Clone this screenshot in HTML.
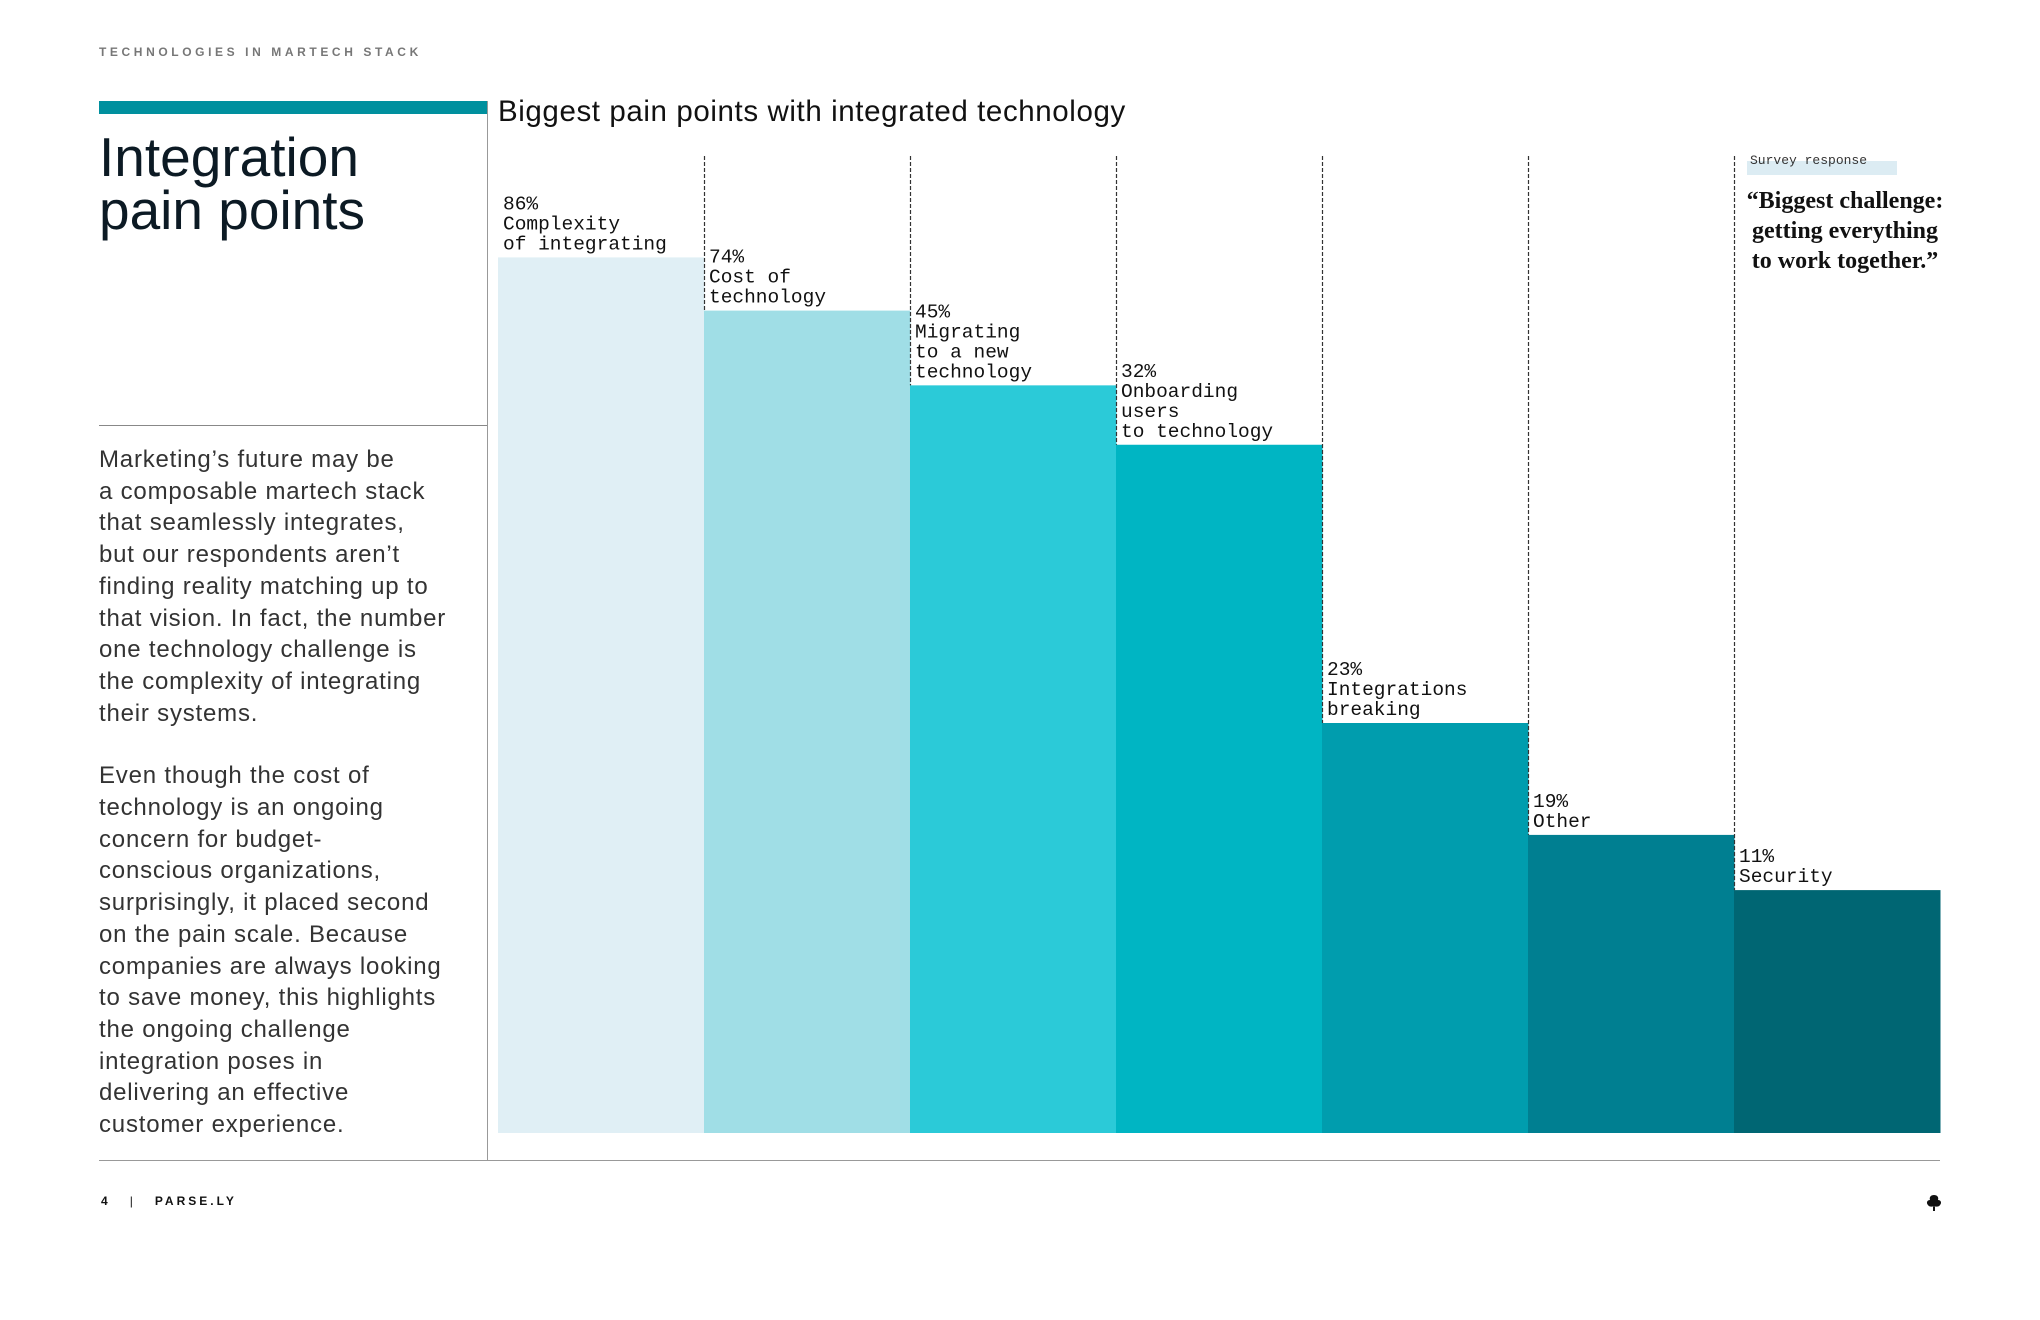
<!DOCTYPE html>
<html><head><meta charset="utf-8"><style>
html,body{margin:0;padding:0;background:#fff;}
#page{position:relative;width:2040px;height:1320px;overflow:hidden;font-family:"Liberation Sans",sans-serif;color:#111;}
.abs{position:absolute;}
#hdr{left:99px;top:45px;font-size:12px;font-weight:bold;letter-spacing:3.6px;color:#777;}
#tealbar{left:99px;top:101px;width:388px;height:13px;background:#00909e;}
#title{left:99px;top:131px;font-size:55px;line-height:53px;letter-spacing:0px;color:#0c1a24;}
#vline{left:487px;top:101px;width:1px;height:1060px;background:#999;}
#hline1{left:99px;top:425px;width:388px;height:1px;background:#888;}
#body{left:99px;top:444px;font-size:24px;line-height:31.7px;letter-spacing:0.8px;color:#333;}
#hline2{left:99px;top:1160px;width:1841px;height:1px;background:#999;}
#footer{left:101px;top:1194px;font-size:12px;font-weight:bold;letter-spacing:3px;color:#111;}
#chart{left:0;top:0;}
</style></head><body>
<div id="page">
<div class="abs" id="hdr">TECHNOLOGIES IN MARTECH STACK</div>
<div class="abs" id="tealbar"></div>
<div class="abs" id="title">Integration<br>pain points</div>
<div class="abs" id="vline"></div>
<div class="abs" id="hline1"></div>
<div class="abs" id="body">Marketing’s future may be<br>a composable martech stack<br>that seamlessly integrates,<br>but our respondents aren’t<br>finding reality matching up to<br>that vision. In fact, the number<br>one technology challenge is<br>the complexity of integrating<br>their systems.<br><div style="height:31px"></div>Even though the cost of<br>technology is an ongoing<br>concern for budget-<br>conscious organizations,<br>surprisingly, it placed second<br>on the pain scale. Because<br>companies are always looking<br>to save money, this highlights<br>the ongoing challenge<br>integration poses in<br>delivering an effective<br>customer experience.</div>
<div class="abs" id="hline2"></div>
<div class="abs" id="footer">4 &nbsp;&nbsp;<span style="font-weight:normal">|</span>&nbsp;&nbsp; PARSE.LY</div>
<svg class="abs" id="footer-icon" style="left:1925px;top:1194px" width="18" height="18" viewBox="0 0 18 18"><path d="M9 1 C12 1 14 3 13 6 C16 6 17 9 15 11 C14 13 11 13 9 12 C7 13 4 13 3 11 C1 9 2 6 5 6 C4 3 6 1 9 1Z M8 12 L8 17 L10 17 L10 12Z" fill="#111"/></svg>
<svg class="abs" id="chart" width="2040" height="1320"></svg>
</div>
<script>
const categories = ["Complexity\nof integrating","Cost of\ntechnology","Migrating\nto a new\ntechnology","Onboarding\nusers\nto technology","Integrations\nbreaking","Other","Security"];
const values = [86,74,45,32,23,19,11];
const valueLabels = ["86%","74%","45%","32%","23%","19%","11%"];
const colors = ["#e0eff5","#a0dee6","#2bcad8","#00b5c3","#009dae","#007f91","#006673"];

const NS="http://www.w3.org/2000/svg";
const svg=document.getElementById('chart');
const x0=498, x1=1940, baseY=1133, topY=156;
const bw=(x1-x0)/categories.length;
function xScale(i){return x0+i*bw;}
// polylinear value->height scale (matches the reference's stepped layout)
const dom=[0,10,20,25,33,50,75,100], rng=[170,236,305,480,718,760,825,940];
function yScale(v){
  let i=0; while(i<dom.length-2 && v>dom[i+1]) i++;
  const t=(v-dom[i])/(dom[i+1]-dom[i]);
  return baseY-(rng[i]+t*(rng[i+1]-rng[i]));
}
function mk(tag,attrs){const e=document.createElementNS(NS,tag);for(const k in attrs)e.setAttribute(k,attrs[k]);svg.appendChild(e);return e;}

const title=mk('text',{x:498,y:121,'font-size':29.5,'font-family':'"Liberation Sans",sans-serif',fill:'#111','letter-spacing':'0.6'});
title.textContent='Biggest pain points with integrated technology';



values.forEach((v,i)=>{
  const x=xScale(i), y=yScale(v);
  const r=mk('rect',{x:x,y:y,width:bw+0.5,height:baseY-y,fill:colors[i]});
  
  
  if(i>0){
    const top=Math.max(y, yScale(values[i-1]));
    const l=mk('line',{x1:x+0.5,x2:x+0.5,y1:topY,y2:top,stroke:'#333','stroke-width':1.2,'stroke-dasharray':'4 2'});
    
    
  }
  const lines=[valueLabels[i]].concat(categories[i].split('\n'));
  const t=mk('text',{x:x+5,'font-size':19.5,'font-family':'"Liberation Mono",monospace',fill:'#111'});
  
  
  lines.forEach((ln,j)=>{
    const ts=document.createElementNS(NS,'tspan');
    ts.setAttribute('x',x+5);
    ts.setAttribute('y',y-8-(lines.length-1-j)*20);
    ts.textContent=ln;
    t.appendChild(ts);
  });
});

const hl=mk('rect',{x:1747,y:161,width:150,height:14,fill:'#dcecf3'});


const st=mk('text',{x:1750,y:164,'font-size':13,'font-family':'"Liberation Mono",monospace',fill:'#333'});
st.textContent='Survey response';


const q=["“Biggest challenge:","getting everything","to work together.”"];
q.forEach((ln,j)=>{
  const e=mk('text',{x:1845,y:208+j*30,'text-anchor':'middle','font-size':24,'font-weight':'bold','font-family':'"Liberation Serif",serif',fill:'#111'});
  e.textContent=ln;
  
  
});
</script>
</body></html>
